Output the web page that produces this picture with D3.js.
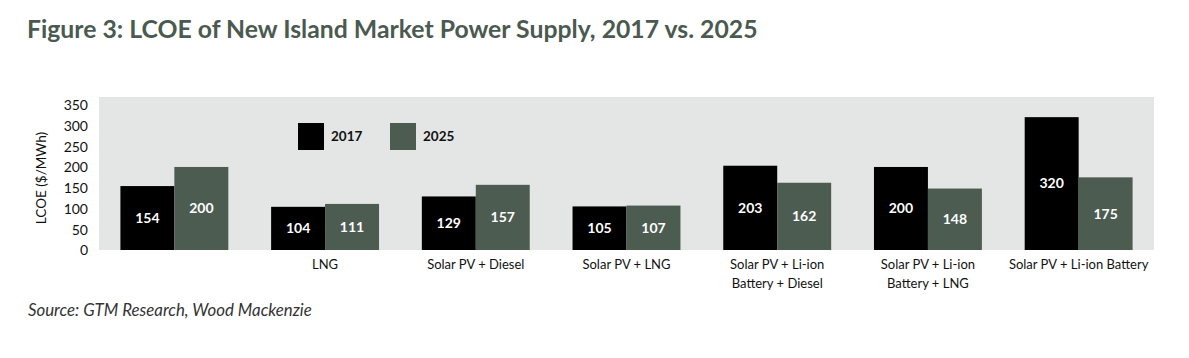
<!DOCTYPE html>
<html><head><meta charset="utf-8">
<script src="https://cdn.jsdelivr.net/npm/d3@7"></script>
<style>
body{margin:0;background:#fff;}
svg{display:block;}
text{font-family:Lato,"Open Sans",sans-serif;}
</style></head>
<body><svg id="chart" width="1189" height="358"></svg>
<script>
const categories = [
  [""],
  ["LNG"],
  ["Solar PV + Diesel"],
  ["Solar PV + LNG"],
  ["Solar PV + Li-ion", "Battery + Diesel"],
  ["Solar PV + Li-ion", "Battery + LNG"],
  ["Solar PV + Li-ion Battery"]
];
const series2017 = [154, 104, 129, 105, 203, 200, 320];
const series2025 = [200, 111, 157, 107, 162, 148, 175];
const seriesNames = ["2017", "2025"];
const seriesColors = ["#000000", "#4d5c51"];
const yTicks = [0, 50, 100, 150, 200, 250, 300, 350];

const svg = d3.select("#chart");
const plot = {left: 99, right: 1154, top: 97, bottom: 250};

function fitText(sel, target) {
  const w = sel.node().getComputedTextLength();
  const fs = parseFloat(sel.attr("font-size"));
  sel.attr("font-size", fs * target / w);
}

// Title
const title = svg.append("text").attr("x", 27).attr("y", 38)
  .attr("font-size", 22).attr("font-weight", 700).attr("fill", "#4b5a50")
  .text("Figure 3: LCOE of New Island Market Power Supply, 2017 vs. 2025");
fitText(title, 731);

// background
svg.append("rect").attr("x", plot.left).attr("y", plot.top)
  .attr("width", plot.right - plot.left).attr("height", plot.bottom - plot.top)
  .attr("fill", "#e4e6e5");

const x = d3.scaleBand().domain(d3.range(categories.length))
  .range([plot.left, plot.right]).paddingInner(0.284).paddingOuter(0.142);
const xs = d3.scaleBand().domain([0, 1]).range([0, x.bandwidth()]);
const y = d3.scaleLinear().domain([0, 350]).range([250, 104.7]);

// y axis labels
const yAxis = d3.axisLeft(y).tickValues(yTicks).tickSize(0).tickPadding(0);
const yg = svg.append("g").attr("transform", "translate(88,0)").call(yAxis);
yg.select(".domain").remove();
yg.selectAll("text").attr("font-family", "Lato, sans-serif").attr("font-size", 14)
  .attr("fill", "#111").attr("dy", "0.35em");

svg.append("text").attr("transform", "translate(46,178) rotate(-90)")
  .attr("text-anchor", "middle").attr("font-size", 13.5).attr("fill", "#111")
  .text("LCOE ($/MWh)");

// bars
const data = [series2017, series2025];
data.forEach((vals, s) => {
  const g = svg.append("g");
  g.selectAll("rect").data(vals).join("rect")
    .attr("x", (d, i) => x(i) + xs(s)).attr("width", xs.bandwidth())
    .attr("y", d => y(d)).attr("height", d => y(0) - y(d))
    .attr("fill", seriesColors[s]);
  g.selectAll("text").data(vals).join("text")
    .attr("x", (d, i) => x(i) + xs(s) + xs.bandwidth() / 2)
    .attr("y", d => (y(d) + y(0)) / 2).attr("dy", "0.35em")
    .attr("text-anchor", "middle").attr("font-size", 14).attr("font-weight", 700)
    .attr("fill", "#fff").text(d => d);
});

// category labels
categories.forEach((lines, i) => {
  const t = svg.append("text").attr("text-anchor", "middle")
    .attr("x", x(i) + x.bandwidth() / 2).attr("y", 269)
    .attr("font-size", 13).attr("fill", "#111");
  lines.forEach((l, k) => t.append("tspan").attr("x", x(i) + x.bandwidth() / 2)
    .attr("dy", k === 0 ? 0 : 19).text(l));
});

// legend
const legX = [298, 390];
seriesNames.forEach((n, s) => {
  svg.append("rect").attr("x", legX[s]).attr("y", 123).attr("width", 26).attr("height", 27)
    .attr("fill", seriesColors[s]);
  svg.append("text").attr("x", legX[s] + 33).attr("y", 136).attr("dy", "0.35em")
    .attr("font-size", 13.5).attr("font-weight", 700).attr("fill", "#111").text(n);
});

// source
const src = svg.append("text").attr("x", 28).attr("y", 316).attr("font-size", 15)
  .attr("font-style", "italic").attr("fill", "#333")
  .text("Source: GTM Research, Wood Mackenzie");
fitText(src, 284);
</script></body></html>
